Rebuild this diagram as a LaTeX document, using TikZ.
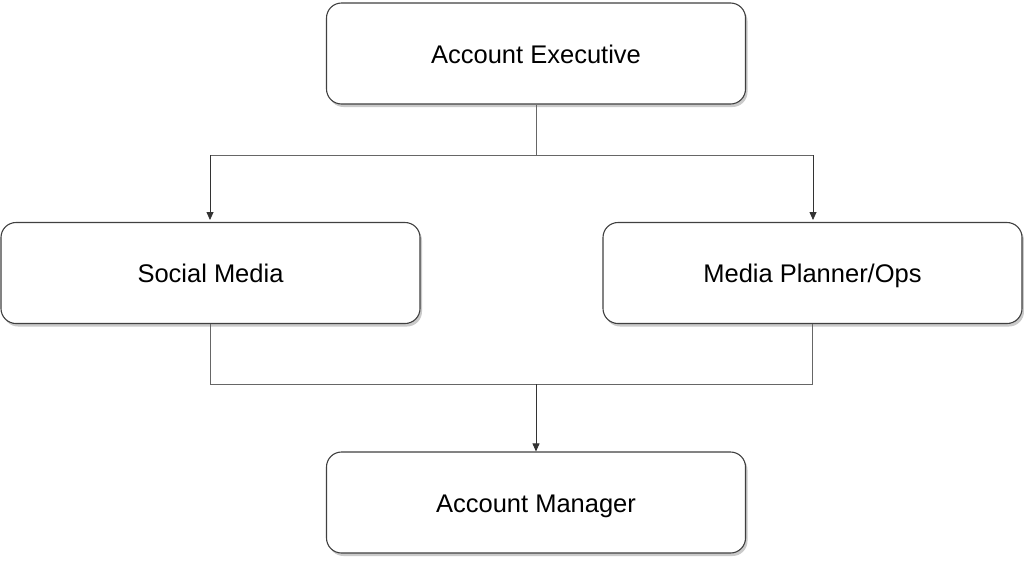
\documentclass[tikz,border=0pt]{standalone}
\usepackage{fontspec}
\setmainfont{Liberation Sans}
\usetikzlibrary{shadows,arrows.meta}
\begin{document}
\begin{tikzpicture}[x=1pt,y=-1pt,
  box/.style={draw=black!75, line width=1.1pt, rounded corners=15pt, fill=white,
    minimum width=419pt, minimum height=101pt, inner sep=0pt,
    text height=19pt, text depth=0pt,
    font=\fontsize{25.5}{30}\selectfont,
    drop shadow={shadow xshift=2pt, shadow yshift=-3pt, opacity=0.35, fill=black!60}},
  conn/.style={draw=black!60, line width=0.8pt},
  arr/.style={conn, -{Triangle[length=8pt,width=7pt]}, draw=black!80}]
\useasboundingbox (0,0) rectangle (1024,563);
\node[box] (ae) at (536,53.5) {Account Executive};
\node[box] (sm) at (210.5,273) {Social Media};
\node[box] (mp) at (812.5,273) {Media Planner/Ops};
\node[box] (am) at (536,502.5) {Account Manager};
\coordinate (j1) at (536,155);
\coordinate (j2) at (536,384);
\draw[conn] (ae.south) -- (j1);
\draw[conn] (210,155) -- (813,155);
\draw[arr] (210,155) -- (210,220);
\draw[arr] (813,155) -- (813,220);
\draw[conn] (sm.south) -- (210.5,384) -- (812.5,384) -- (mp.south);
\draw[arr] (j2) -- (am.north);
\end{tikzpicture}
\end{document}
